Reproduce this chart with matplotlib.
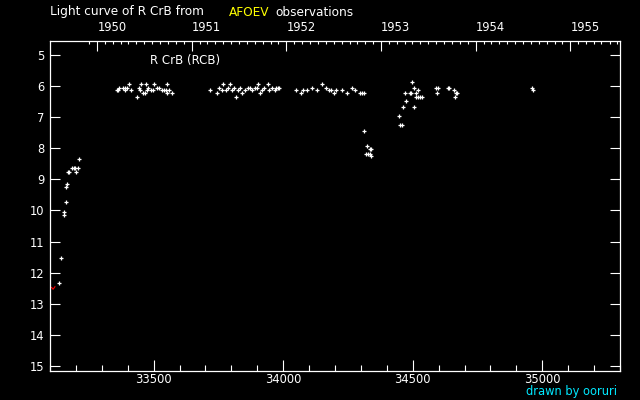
import numpy as np
from matplotlib import pyplot as plt
from matplotlib.ticker import MultipleLocator, FixedLocator

# JD - 2400000 and visual magnitude
jd = [33136, 33144, 33155, 33155, 33163, 33163, 33167, 33171, 33175, 33186,
      33192, 33197, 33201, 33207, 33213,
      33360, 33364, 33367, 33383, 33391, 33391, 33398, 33406, 33414, 33437,
      33445, 33448, 33452, 33460, 33468, 33472, 33475, 33479, 33491, 33499,
      33502, 33514, 33522, 33533, 33541, 33549, 33553, 33553, 33560, 33572,
      33718, 33745, 33753, 33765, 33769, 33780, 33788, 33796, 33803, 33811,
      33819, 33826, 33834, 33842, 33853, 33865, 33873, 33880, 33892, 33900,
      33904, 33911, 33919, 33927, 33942, 33946, 33958, 33969, 33973, 33981,
      33985,
      34050, 34069, 34077, 34093, 34112, 34131, 34151, 34166, 34178, 34185,
      34197, 34205, 34228, 34247, 34266, 34278, 34297, 34305, 34313,
      34313, 34324, 34336, 34340, 34320, 34328, 34336, 34340,
      34448, 34452, 34459, 34463, 34471, 34475, 34490, 34494, 34498, 34506,
      34506, 34513, 34513, 34521, 34521, 34529, 34537, 34590, 34598, 34594,
      34637, 34641, 34660, 34664, 34667, 34671,
      34961, 34965]
mag = [12.34, 11.54, 10.05, 10.16, 9.74, 9.25, 9.15, 8.75, 8.75, 8.65,
       8.65, 8.65, 8.75, 8.65, 8.36,
       6.14, 6.14, 6.05, 6.05, 6.05, 6.14, 6.05, 5.95, 6.14, 6.37,
       6.05, 6.14, 5.95, 6.24, 6.24, 5.95, 6.14, 6.05, 6.14, 6.14,
       5.95, 6.05, 6.05, 6.14, 6.14, 6.14, 5.95, 6.24, 6.14, 6.24,
       6.14, 6.24, 6.05, 6.14, 5.95, 6.14, 6.05, 5.95, 6.14, 6.05,
       6.37, 6.14, 6.05, 6.24, 6.14, 6.05, 6.05, 6.14, 6.05, 6.05,
       5.95, 6.24, 6.14, 6.05, 5.95, 6.14, 6.05, 6.14, 6.05, 6.05,
       6.05,
       6.14, 6.24, 6.14, 6.14, 6.05, 6.14, 5.95, 6.05, 6.14, 6.14,
       6.24, 6.14, 6.14, 6.24, 6.05, 6.14, 6.24, 6.24, 6.24,
       7.46, 7.94, 8.04, 8.04, 8.17, 8.17, 8.17, 8.26,
       6.95, 7.27, 7.27, 6.66, 6.24, 6.47, 6.24, 6.24, 5.86, 6.05,
       6.66, 6.24, 6.37, 6.14, 6.37, 6.37, 6.37, 6.05, 6.05, 6.24,
       6.05, 6.05, 6.14, 6.37, 6.24, 6.24,
       6.05, 6.14]

# faint "fainter than" trace at the left edge
lim_jd = [33098, 33106, 33112, 33119]
lim_mag = [12.47, 12.47, 12.53, 12.45]

years = [1950, 1951, 1952, 1953, 1954, 1955]


def to_jd(d):
    # JD - 2400000 of a calendar date (MJD + 0.5)
    return (np.datetime64(d) - np.datetime64('1858-11-17')).astype(int) + 0.5


fig = plt.figure(figsize=(6.4, 4.0), dpi=100, facecolor='black')
ax = fig.add_axes([50 / 640, 29.5 / 400, 570 / 640, 330 / 400])
ax.set_facecolor('black')

ax.plot(jd, mag, '+', color='white', ms=3.2, mew=0.9)
ax.plot(lim_jd, lim_mag, color='red', lw=0.8)

ax.set_xlim(33100, 35300)
ax.set_ylim(15.14, 4.54)

for s in ax.spines.values():
    s.set_color('white')
    s.set_linewidth(0.9)

ax.xaxis.set_major_locator(MultipleLocator(500))
ax.xaxis.set_minor_locator(MultipleLocator(100))
ax.yaxis.set_major_locator(MultipleLocator(1))
ax.tick_params(axis='x', which='major', direction='in', length=7.7, width=0.8,
               colors='white', labelsize=8.3, pad=2, top=False)
ax.tick_params(axis='x', which='minor', direction='in', length=4.1, width=0.8,
               colors='white', top=False)
ax.tick_params(axis='y', which='major', direction='in', length=7.2, width=0.8,
               colors='white', labelsize=8.3, pad=4, right=True)

# calendar years on top
ax2 = ax.twiny()
ax2.set_xlim(ax.get_xlim())
ax2.xaxis.set_major_locator(FixedLocator([to_jd('%d-01-01' % y) for y in years]))
ax2.set_xticklabels([str(y) for y in years])
months = np.arange(np.datetime64('1949-12'), np.datetime64('1955-08'))
ax2.xaxis.set_minor_locator(FixedLocator([to_jd(str(m) + '-01') for m in months]))
ax2.tick_params(axis='x', which='major', direction='in', length=7.2, width=0.8,
                colors='white', labelsize=8.3, pad=5)
ax2.tick_params(axis='x', which='minor', direction='in', length=2.4, width=0.8,
                colors='white')
for lbl in ax2.get_xticklabels():
    lbl.set_ha('left')
for s in ax2.spines.values():
    s.set_visible(False)

ax.text(100 / 570, 0.94, 'R CrB (RCB)', transform=ax.transAxes,
        color='white', fontsize=8.5, va='center', ha='left')

fig.text(50 / 640, 1 - 12 / 400, 'Light curve of R CrB from', color='white',
         fontsize=8.7, va='center', ha='left')
fig.text(229 / 640, 1 - 12 / 400, 'AFOEV', color='#ffff00',
         fontsize=8.7, va='center', ha='left')
fig.text(275 / 640, 1 - 12 / 400, 'observations', color='white',
         fontsize=8.7, va='center', ha='left')
fig.text(617 / 640, 1 - 392 / 400, 'drawn by ooruri', color='#00e8ff',
         fontsize=8.3, va='center', ha='right')

fig.savefig('out.png', dpi=100, facecolor='black')
